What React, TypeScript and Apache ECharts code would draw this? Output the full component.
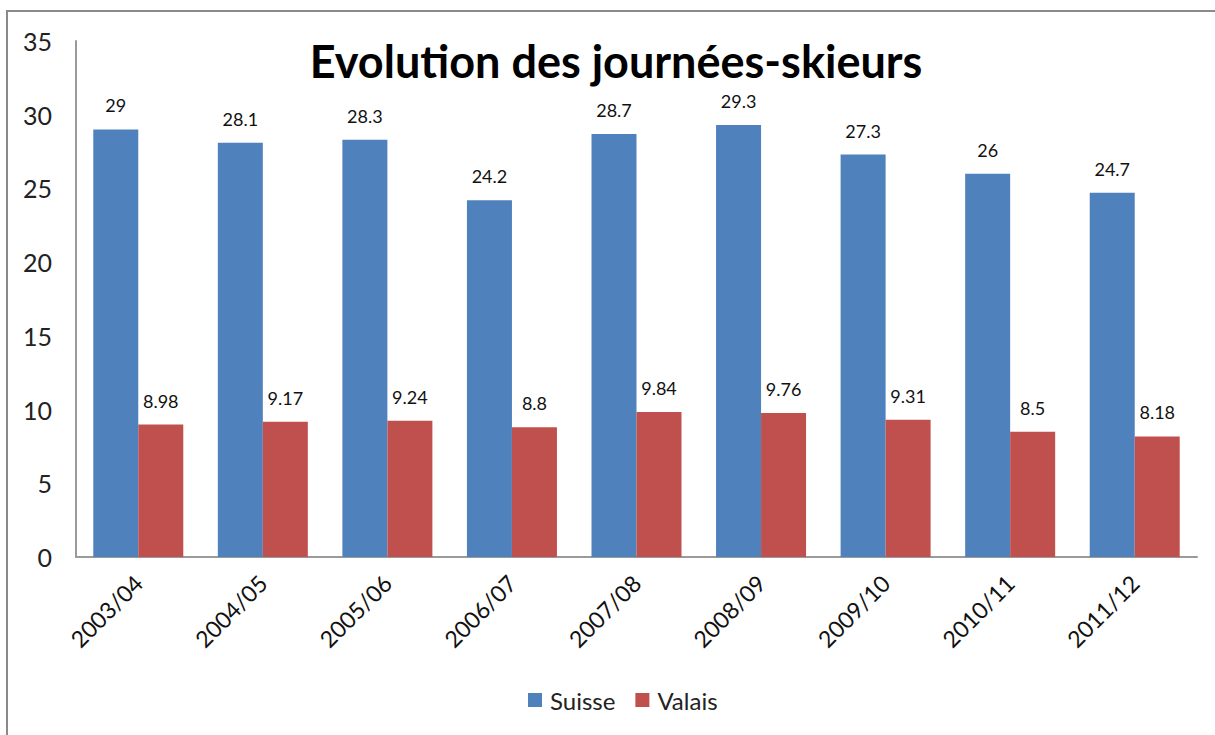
import React, { useEffect, useRef } from "react";
import * as echarts from "echarts";

const categories = ["2003/04", "2004/05", "2005/06", "2006/07", "2007/08", "2008/09", "2009/10", "2010/11", "2011/12"];
const suisse = [29, 28.1, 28.3, 24.2, 28.7, 29.3, 27.3, 26, 24.7];
const valais = [8.98, 9.17, 9.24, 8.8, 9.84, 9.76, 9.31, 8.5, 8.18];
const titleText = "Evolution des journées-skieurs";
const FONT = "Lato, 'Open Sans', sans-serif";

export default function App() {
  const ref = useRef<HTMLDivElement>(null);
  useEffect(() => {
    document.body.style.margin = "0";
    const chart = echarts.init(ref.current!, undefined, { renderer: "svg" });
    chart.setOption({
      animation: false,
      backgroundColor: "#ffffff",
      textStyle: { fontFamily: FONT },
      graphic: [
        {
          type: "rect",
          shape: { x: 7, y: 11, width: 1230, height: 760 },
          style: { fill: "none", stroke: "#8a8a8a", lineWidth: 2 },
          silent: true,
        },
        {
          type: "text",
          x: 616,
          y: 61,
          style: {
            text: titleText,
            font: `bold 45px ${FONT}`,
            fill: "#000000",
            textAlign: "center",
            textVerticalAlign: "middle",
          },
        },
      ],
      legend: {
        bottom: 18,
        left: 523,
        itemWidth: 14,
        itemHeight: 14,
        itemGap: 20,
        icon: "rect",
        textStyle: { fontSize: 24, color: "#222", fontFamily: FONT, padding: [0, 0, 0, 3] },
        data: ["Suisse", "Valais"],
      },
      grid: { left: 76, right: 18, top: 41, bottom: 178, containLabel: false },
      xAxis: {
        type: "category",
        data: categories,
        axisLine: { lineStyle: { color: "#9a9a9a", width: 2 } },
        axisTick: { show: false },
        axisLabel: {
          rotate: 45,
          fontSize: 23,
          color: "#111",
          margin: 22,
          interval: 0,
          fontFamily: FONT,
        },
      },
      yAxis: {
        type: "value",
        min: 0,
        max: 35,
        interval: 5,
        splitLine: { show: false },
        axisLine: { show: true, lineStyle: { color: "#9a9a9a", width: 2 } },
        axisTick: { show: false },
        axisLabel: { fontSize: 25, color: "#222", margin: 24, fontFamily: FONT },
      },
      series: [
        {
          name: "Suisse",
          type: "bar",
          data: suisse,
          barWidth: 45,
          barGap: "0%",
          itemStyle: { color: "#4F81BD" },
          label: { show: true, position: "top", distance: 15, fontSize: 18, color: "#111", fontFamily: FONT },
        },
        {
          name: "Valais",
          type: "bar",
          data: valais,
          barWidth: 45,
          barGap: "0%",
          itemStyle: { color: "#C0504D" },
          label: { show: true, position: "top", distance: 15, fontSize: 18, color: "#111", fontFamily: FONT },
        },
      ],
    });
    return () => chart.dispose();
  }, []);
  return <div ref={ref} style={{ position: "fixed", left: 0, top: 0, width: 1215, height: 735 }} />;
}
